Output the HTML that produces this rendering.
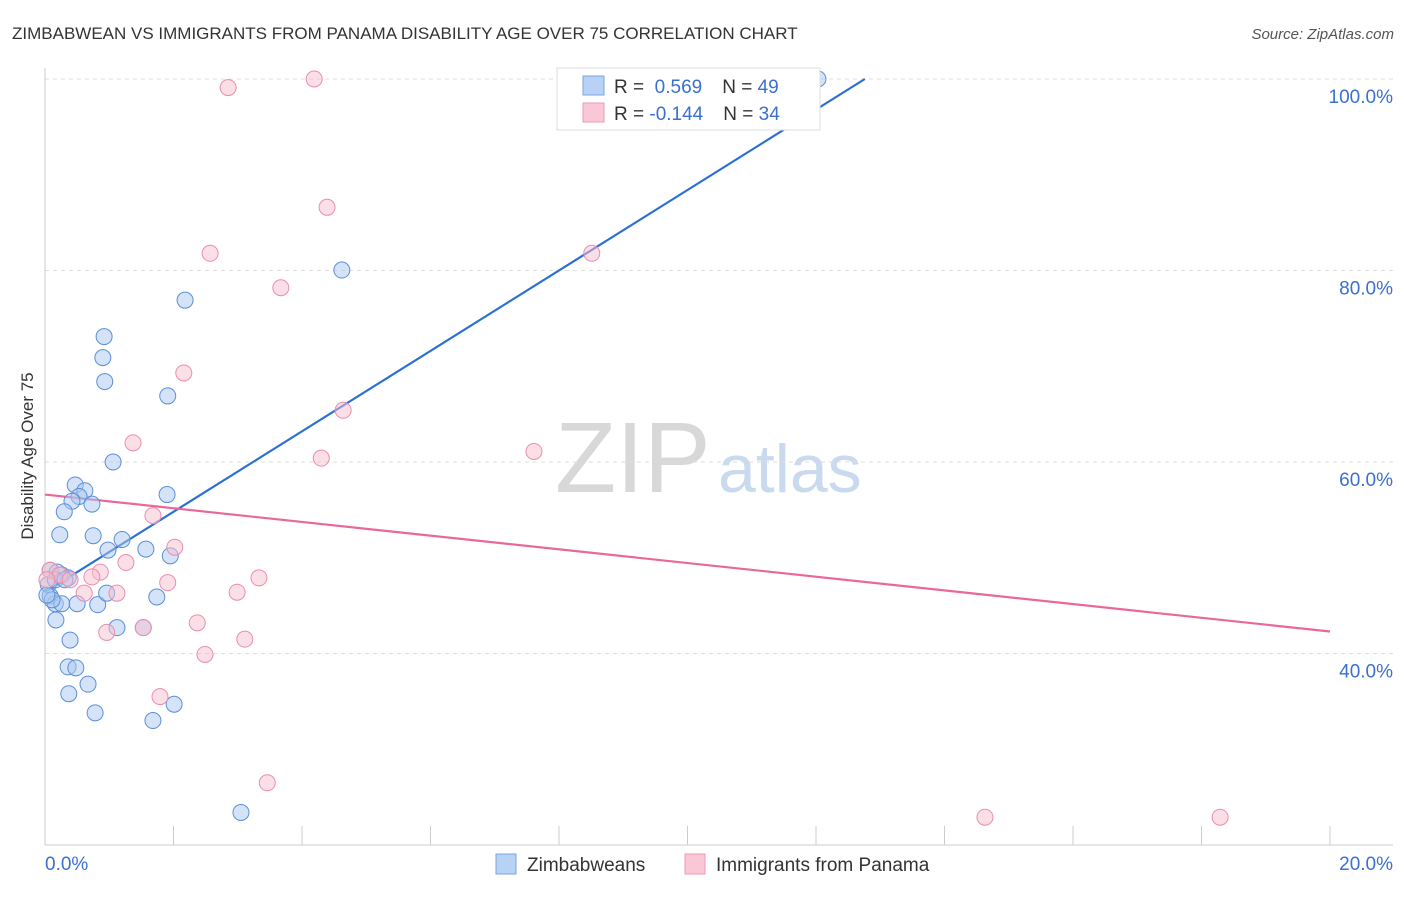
<!DOCTYPE html>
<html><head><meta charset="utf-8"><style>
body{margin:0;background:#fff;font-family:"Liberation Sans",sans-serif}
svg text{font-family:"Liberation Sans",sans-serif}
</style></head><body>
<svg id="c" width="1406" height="892" xmlns="http://www.w3.org/2000/svg">
<text x="12" y="39" font-size="17" fill="#333">ZIMBABWEAN VS IMMIGRANTS FROM PANAMA DISABILITY AGE OVER 75 CORRELATION CHART</text>
<text x="1394" y="39" font-size="15" fill="#555" text-anchor="end" font-style="italic">Source: ZipAtlas.com</text>
<text x="33" y="456" font-size="17" fill="#333" text-anchor="middle" transform="rotate(-90 33 456)">Disability Age Over 75</text>
<text x="555" y="492" font-size="100" fill="#d8d8d8" font-family="Liberation Serif">ZIP</text>
<text x="718" y="492" font-size="68" fill="#c9d9ee">atlas</text>
<g id="grid"></g><g id="lines"></g><g id="pts"></g>
<g>
<rect x="557" y="68" width="263" height="62" fill="#fff" stroke="#ddd"/>
<rect x="583" y="76" width="21" height="19" fill="#b7d2f5" stroke="#7aa6e0"/>
<rect x="583" y="103" width="21" height="19" fill="#f9c7d6" stroke="#ee9ab5"/>
<text x="614" y="93" font-size="19" fill="#333">R = <tspan fill="#3a70d0">&#160;0.569</tspan><tspan dx="20">N = </tspan><tspan fill="#3a70d0">49</tspan></text>
<text x="614" y="120" font-size="19" fill="#333">R = <tspan fill="#3a70d0">-0.144</tspan><tspan dx="20">N = </tspan><tspan fill="#3a70d0">34</tspan></text>
</g>
<g>
<rect x="496" y="854" width="20" height="20" fill="#b7d2f5" stroke="#7aa6e0"/>
<text x="527" y="871" font-size="19" fill="#333">Zimbabweans</text>
<rect x="685" y="854" width="20" height="20" fill="#f9c7d6" stroke="#ee9ab5"/>
<text x="716" y="871" font-size="19" fill="#333">Immigrants from Panama</text>
</g>
</svg>
<script>
const yTicks=[100,80,60,40];
const xTickLabels=["0.0%","20.0%"];
const blueX=[12.03,4.62,2.18,0.92,0.90,0.93,1.91,1.06,0.47,0.62,0.53,0.42,0.73,0.30,1.90,0.23,0.75,1.20,0.98,1.57,1.95,0.08,0.19,0.26,0.36,0.05,0.08,0.16,0.26,0.50,0.82,0.96,1.74,0.17,1.12,1.53,0.39,0.36,0.48,0.67,0.37,0.78,1.68,2.01,3.05,0.11,0.03,0.16,0.31];
const blueY=[100,80.05,76.9,73.1,70.9,68.4,66.9,60.0,57.6,57.0,56.4,55.9,55.6,54.8,56.6,52.4,52.3,51.9,50.8,50.9,50.2,48.7,48.5,48.2,47.9,47.2,46.0,45.2,45.2,45.2,45.1,46.3,45.9,43.5,42.7,42.7,41.4,38.6,38.5,36.8,35.8,33.8,33.0,34.7,23.4,45.6,46.1,47.7,47.7];
const pinkX=[4.19,2.85,4.39,2.57,8.51,3.67,2.16,4.64,1.37,4.30,7.61,1.68,2.02,1.26,0.86,0.73,1.91,3.33,2.99,1.12,0.61,0.96,1.53,2.37,3.11,2.49,1.79,3.46,14.63,18.29,0.08,0.23,0.39,0.03];
const pinkY=[100,99.1,86.6,81.8,81.8,78.2,69.3,65.4,62.0,60.4,61.1,54.4,51.1,49.5,48.5,48.0,47.4,47.9,46.4,46.3,46.3,42.2,42.7,43.2,41.5,39.9,35.5,26.5,22.9,22.9,48.7,48.2,47.7,47.7];
const blueTrend=[0,46.4,12.76,100];
const pinkTrend=[0,56.6,20,42.3];
const NS="http://www.w3.org/2000/svg";
const sx=v=>45+v*64.25, sy=v=>79+(100-v)*9.575;
function mk(p,t,a){const e=document.createElementNS(NS,t);for(const k in a)e.setAttribute(k,a[k]);p.appendChild(e);return e;}
const g=document.getElementById('grid');
yTicks.forEach(v=>{
 const l=mk(g,'line',{x1:45,x2:1393,y1:sy(v),y2:sy(v),stroke:'#ddd','stroke-dasharray':'4,4'});
 
 
 const t=mk(g,'text',{x:1393,y:sy(v)+24,'font-size':19,fill:'#3a70d0','text-anchor':'end'});t.textContent=v.toFixed(1)+'%';
 
 
});
mk(g,'line',{x1:45,x2:45,y1:68,y2:845,stroke:'#ccc'});
mk(g,'line',{x1:45,x2:1393,y1:845,y2:845,stroke:'#ccc'});
for(let i=1;i<=10;i++){const x=sx(i*2);mk(g,'line',{x1:x,x2:x,y1:826,y2:845,stroke:'#ccc'});}
const t0=mk(g,'text',{x:45,y:870,'font-size':19,fill:'#3a70d0'});t0.textContent=xTickLabels[0];


const t1=mk(g,'text',{x:1393,y:870,'font-size':19,fill:'#3a70d0','text-anchor':'end'});t1.textContent=xTickLabels[1];


const pg=document.getElementById('pts');
function dots(xs,ys,fill,stroke,name){xs.forEach((x,i)=>{const c=mk(pg,'circle',{cx:sx(x),cy:sy(ys[i]),r:8,fill:fill,'fill-opacity':0.5,stroke:stroke,'stroke-width':1});
 
 });}
dots(blueX,blueY,'#a9c8f0','#5a8fd8','zimbabwean-point');
dots(pinkX,pinkY,'#f7bfd0','#ea8eab','panama-point');
const lg=document.getElementById('lines');
const bl=mk(lg,'line',{x1:sx(blueTrend[0]),y1:sy(blueTrend[1]),x2:sx(blueTrend[2]),y2:sy(blueTrend[3]),stroke:'#2a6fd6','stroke-width':2.2});


const pl=mk(lg,'line',{x1:sx(pinkTrend[0]),y1:sy(pinkTrend[1]),x2:sx(pinkTrend[2]),y2:sy(pinkTrend[3]),stroke:'#e8689a','stroke-width':2.2});


</script>
</body></html>
